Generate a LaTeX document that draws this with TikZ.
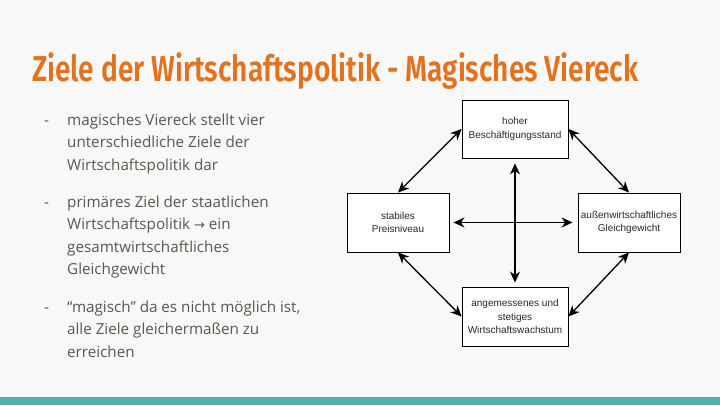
\documentclass[tikz,border=0pt]{standalone}
\usepackage{fontspec}
\setmainfont{Open Sans}
\newfontfamily\titlefont[FakeStretch=0.78]{Fira Sans SemiBold}
\newfontfamily\boxfont{Liberation Sans}
\usetikzlibrary{arrows.meta}
\definecolor{slidebg}{RGB}{248,248,248}
\definecolor{titleorange}{RGB}{228,114,28}
\definecolor{bodytext}{RGB}{92,86,78}
\definecolor{barteal}{RGB}{78,181,169}
\definecolor{boxtext}{RGB}{40,40,40}

\begin{document}
\begin{tikzpicture}[x=1pt,y=-1pt,
    goal/.style={draw,line width=0.9pt,fill=white,inner sep=0pt,align=center,
      font=\boxfont\fontsize{10}{13.5}\selectfont,text=boxtext},
    bullet/.style={anchor=base west,inner sep=0pt,align=left,text=bodytext,
      font=\fontsize{15.2}{22.5}\selectfont},
    link/.style={line width=1.3pt,{Stealth[length=11pt,width=10pt]}-{Stealth[length=11pt,width=10pt]}}]
  \fill[slidebg] (0,0) rectangle (720,405);
  \useasboundingbox (0,0) rectangle (720,405);
  \fill[barteal] (0,397) rectangle (720,405);

  \node[anchor=base west,inner sep=0pt,text=titleorange,
    font=\titlefont\fontsize{36}{40}\selectfont] (title) at (32,81)
    {Ziele der Wirtschaftspolitik - Magisches Viereck};

  \node[bullet] (d1) at (44,125) {-};
  \node[bullet] (b1) at (67,170) {magisches Viereck stellt vier\\unterschiedliche Ziele der\\Wirtschaftspolitik dar};
  \node[bullet] (d2) at (44,207) {-};
  \node[bullet] (b2) at (67,274.5) {primäres Ziel der staatlichen\\Wirtschaftspolitik {\fontspec{DejaVu Sans}\fontsize{13}{22.5}\selectfont →} ein\\gesamtwirtschaftliches\\Gleichgewicht};
  \node[bullet] (d3) at (44,312) {-};
  \node[bullet] (b3) at (67,357) {“magisch” da es nicht möglich ist,\\alle Ziele gleichermaßen zu\\erreichen};

  \node[goal,minimum width=106,minimum height=58] (top) at (515,129) {hoher\\Beschäftigungsstand};
  \node[goal,minimum width=102,minimum height=59] (left) at (398,222.5) {stabiles\\Preisniveau};
  \node[goal,minimum width=102,minimum height=59] (right) at (629,222.5) {außenwirtschaftliches\\Gleichgewicht};
  \node[goal,minimum width=106,minimum height=59] (bottom) at (515,316.5) {angemessenes und\\stetiges\\Wirtschaftswachstum};

  \draw[link] (left.north) -- (top.west);
  \draw[link] (top.east) -- (right.north);
  \draw[link] (left.south) -- (bottom.west);
  \draw[link] (bottom.east) -- (right.south);
  \draw[link,shorten <=5pt,shorten >=4pt] (top.south) -- (bottom.north);
  \draw[link,shorten <=4pt,shorten >=5pt] (left.east) -- (right.west);
\end{tikzpicture}
\end{document}
